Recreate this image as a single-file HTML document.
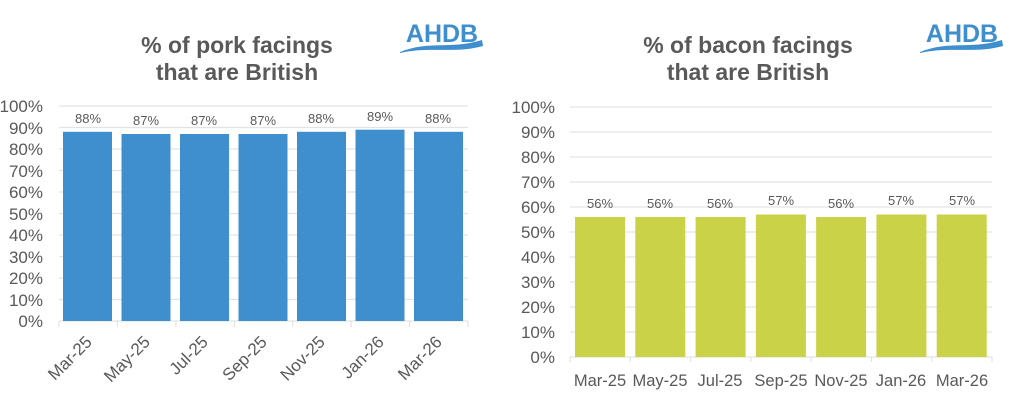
<!DOCTYPE html>
<html><head><style>
body{margin:0;background:#fff;}
svg text{font-family:"Liberation Sans",Arial,sans-serif;}
</style></head><body>
<svg width="1024" height="405" xmlns="http://www.w3.org/2000/svg">
<rect width="1024" height="405" fill="#fff"/>
<g fill="#595959" font-weight="bold" font-size="23" text-anchor="middle">
<text x="237" y="53">% of pork facings</text>
<text x="237" y="80">that are British</text>
<text x="748" y="53">% of bacon facings</text>
<text x="748" y="80">that are British</text>
</g>
<g fill="#3f8fcf">
<text x="442" y="42" font-size="25" font-weight="bold" text-anchor="middle" fill="#3f8fcf">AHDB</text>
<path d="M400 52 C430 40,450 50,482 40 L483 46 C455 54,430 46,400 53 Z"/>
<text x="962" y="42" font-size="25" font-weight="bold" text-anchor="middle" fill="#3f8fcf">AHDB</text>
<path d="M920 52 C950 40,970 50,1002 40 L1003 46 C975 54,950 46,920 53 Z"/>
</g>
<g stroke="#e3e3e3" stroke-width="1.2">
<line x1="59" x2="468" y1="106" y2="106"/><line x1="59" x2="468" y1="127.5" y2="127.5"/>
<line x1="59" x2="468" y1="149" y2="149"/><line x1="59" x2="468" y1="170.5" y2="170.5"/>
<line x1="59" x2="468" y1="192" y2="192"/><line x1="59" x2="468" y1="213.5" y2="213.5"/>
<line x1="59" x2="468" y1="235" y2="235"/><line x1="59" x2="468" y1="256.5" y2="256.5"/>
<line x1="59" x2="468" y1="278" y2="278"/><line x1="59" x2="468" y1="299.5" y2="299.5"/>
<line x1="59" x2="468" y1="321" y2="321"/>
<line x1="59" x2="59" y1="321" y2="327"/><line x1="117.4" x2="117.4" y1="321" y2="327"/>
<line x1="175.9" x2="175.9" y1="321" y2="327"/><line x1="234.3" x2="234.3" y1="321" y2="327"/>
<line x1="292.7" x2="292.7" y1="321" y2="327"/><line x1="351.1" x2="351.1" y1="321" y2="327"/>
<line x1="409.6" x2="409.6" y1="321" y2="327"/><line x1="468" x2="468" y1="321" y2="327"/>
</g>
<g fill="#3f8fcf">
<rect x="63" y="131.8" width="49" height="189.2"/>
<rect x="121.5" y="134" width="49" height="187"/>
<rect x="180" y="134" width="49" height="187"/>
<rect x="238.5" y="134" width="49" height="187"/>
<rect x="297" y="131.8" width="49" height="189.2"/>
<rect x="355.5" y="129.7" width="49" height="191.3"/>
<rect x="414" y="131.8" width="49" height="189.2"/>
</g>
<g fill="#595959" font-size="13" text-anchor="middle">
<text x="88" y="123">88%</text><text x="146" y="125">87%</text><text x="204" y="125">87%</text>
<text x="263" y="125">87%</text><text x="321" y="123">88%</text><text x="380" y="121">89%</text><text x="438" y="123">88%</text>
</g>
<g fill="#595959" font-size="17" text-anchor="end">
<text x="43" y="112">100%</text><text x="43" y="134">90%</text><text x="43" y="155">80%</text>
<text x="43" y="177">70%</text><text x="43" y="198">60%</text><text x="43" y="220">50%</text>
<text x="43" y="241">40%</text><text x="43" y="263">30%</text><text x="43" y="284">20%</text>
<text x="43" y="306">10%</text><text x="43" y="327">0%</text>
</g>
<g fill="#595959" font-size="17" text-anchor="end">
<text transform="translate(93,343) rotate(-45)">Mar-25</text>
<text transform="translate(151,343) rotate(-45)">May-25</text>
<text transform="translate(209,343) rotate(-45)">Jul-25</text>
<text transform="translate(268,343) rotate(-45)">Sep-25</text>
<text transform="translate(326,343) rotate(-45)">Nov-25</text>
<text transform="translate(385,343) rotate(-45)">Jan-26</text>
<text transform="translate(443,343) rotate(-45)">Mar-26</text>
</g>
<g stroke="#e3e3e3" stroke-width="1.2">
<line x1="570" x2="992" y1="107" y2="107"/><line x1="570" x2="992" y1="132" y2="132"/>
<line x1="570" x2="992" y1="157" y2="157"/><line x1="570" x2="992" y1="182" y2="182"/>
<line x1="570" x2="992" y1="207" y2="207"/><line x1="570" x2="992" y1="232" y2="232"/>
<line x1="570" x2="992" y1="257" y2="257"/><line x1="570" x2="992" y1="282" y2="282"/>
<line x1="570" x2="992" y1="307" y2="307"/><line x1="570" x2="992" y1="332" y2="332"/>
<line x1="570" x2="992" y1="357" y2="357"/>
<line x1="570" x2="570" y1="357" y2="362"/><line x1="630.3" x2="630.3" y1="357" y2="362"/>
<line x1="690.6" x2="690.6" y1="357" y2="362"/><line x1="750.9" x2="750.9" y1="357" y2="362"/>
<line x1="811.1" x2="811.1" y1="357" y2="362"/><line x1="871.4" x2="871.4" y1="357" y2="362"/>
<line x1="931.7" x2="931.7" y1="357" y2="362"/><line x1="992" x2="992" y1="357" y2="362"/>
</g>
<g fill="#cad347">
<rect x="575" y="217" width="50" height="140"/>
<rect x="635.3" y="217" width="50" height="140"/>
<rect x="695.6" y="217" width="50" height="140"/>
<rect x="755.9" y="214.5" width="50" height="142.5"/>
<rect x="816.1" y="217" width="50" height="140"/>
<rect x="876.4" y="214.5" width="50" height="142.5"/>
<rect x="936.7" y="214.5" width="50" height="142.5"/>
</g>
<g fill="#595959" font-size="13" text-anchor="middle">
<text x="600" y="208">56%</text><text x="660" y="208">56%</text><text x="720" y="208">56%</text>
<text x="781" y="205">57%</text><text x="841" y="208">56%</text><text x="901" y="205">57%</text><text x="962" y="205">57%</text>
</g>
<g fill="#595959" font-size="17" text-anchor="end">
<text x="555" y="113">100%</text><text x="555" y="138">90%</text><text x="555" y="163">80%</text>
<text x="555" y="188">70%</text><text x="555" y="213">60%</text><text x="555" y="238">50%</text>
<text x="555" y="263">40%</text><text x="555" y="288">30%</text><text x="555" y="313">20%</text>
<text x="555" y="338">10%</text><text x="555" y="363">0%</text>
</g>
<g fill="#595959" font-size="16.5" text-anchor="middle">
<text x="600" y="386">Mar-25</text><text x="660" y="386">May-25</text><text x="720" y="386">Jul-25</text>
<text x="781" y="386">Sep-25</text><text x="841" y="386">Nov-25</text><text x="901" y="386">Jan-26</text><text x="962" y="386">Mar-26</text>
</g>
</svg>
</body></html>
